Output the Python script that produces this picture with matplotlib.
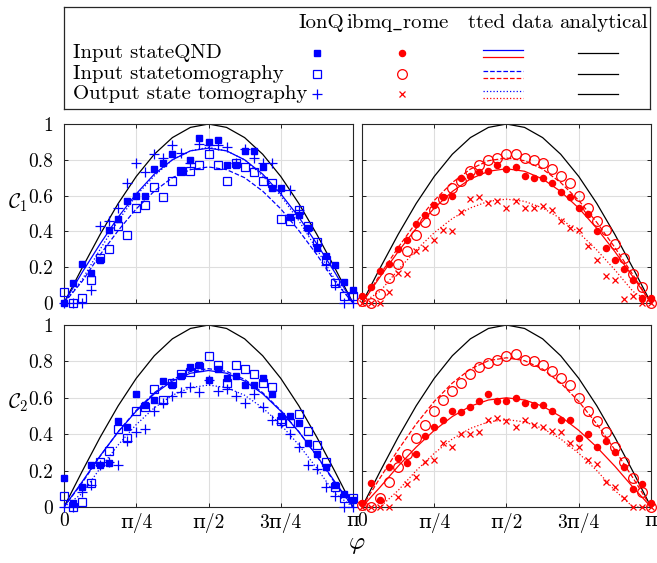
import numpy as np
import matplotlib
matplotlib.use("Agg")
import matplotlib.pyplot as plt

plt.rcParams['font.family'] = ['cmr10', 'DejaVu Serif']
plt.rcParams['mathtext.fontset'] = 'cm'
plt.rcParams['axes.formatter.use_mathtext'] = True
plt.rcParams['font.size'] = 15

# measured angles: 33 samples from 0 to pi, fits drawn on 17 samples
phi = np.linspace(0, np.pi, 33)
phi_fit = np.linspace(0, np.pi, 17)

# --- C1, IonQ ---
c1_ionq_qnd = [0, 0.11, 0.22, 0.17, 0.24, 0.41, 0.47, 0.57, 0.60, 0.60, 0.75, 0.78, 0.83,
               0.74, 0.80, 0.92, 0.90, 0.91, 0.77, 0.77, 0.85, 0.85, 0.76, 0.64, 0.64,
               0.48, 0.49, 0.42, 0.31, 0.26, 0.21, 0.12, 0.07]
c1_ionq_tomo = [0.06, 0, 0.03, 0.13, 0.25, 0.30, 0.43, 0.38, 0.53, 0.55, 0.65, 0.59, 0.68,
                0.74, 0.74, 0.77, 0.83, 0.77, 0.68, 0.78, 0.76, 0.73, 0.68, 0.67, 0.47,
                0.46, 0.52, 0.43, 0.34, 0.24, 0.11, 0.04, 0.04]
c1_ionq_out = [0, 0, 0, 0.07, 0.43, 0.46, 0.53, 0.67, 0.78, 0.73, 0.83, 0.81, 0.88,
               0.84, 0.78, 0.89, 0.88, 0.88, 0.87, 0.78, 0.86, 0.81, 0.78, 0.78, 0.63,
               0.63, 0.52, 0.41, 0.33, 0.21, 0.10, 0, 0]
c1_ionq_fit_qnd = [0, 0.17, 0.33, 0.48, 0.61, 0.72, 0.80, 0.85, 0.865,
                   0.85, 0.80, 0.72, 0.61, 0.48, 0.33, 0.17, 0]
c1_ionq_fit_tomo = [0, 0.12, 0.27, 0.405, 0.526, 0.625, 0.70, 0.745, 0.76,
                    0.745, 0.70, 0.625, 0.526, 0.405, 0.27, 0.12, 0]
c1_ionq_fit_out = [0, 0.13, 0.30, 0.46, 0.60, 0.71, 0.80, 0.85, 0.87,
                   0.85, 0.80, 0.71, 0.60, 0.46, 0.30, 0.13, 0]

# --- C1, ibmq_rome ---
c1_ibm_qnd = [0.04, 0.09, 0.18, 0.22, 0.30, 0.35, 0.44, 0.49, 0.55, 0.59, 0.60, 0.70, 0.71,
              0.73, 0.74, 0.77, 0.75, 0.76, 0.71, 0.70, 0.70, 0.67, 0.62, 0.59, 0.53,
              0.50, 0.40, 0.31, 0.24, 0.19, 0.13, 0.03, 0.03]
c1_ibm_tomo = [0.01, 0, 0.05, 0.14, 0.22, 0.29, 0.38, 0.45, 0.52, 0.58, 0.64, 0.68, 0.74,
               0.77, 0.80, 0.81, 0.83, 0.83, 0.81, 0.80, 0.78, 0.75, 0.71, 0.67, 0.60,
               0.53, 0.46, 0.41, 0.33, 0.25, 0.16, 0.09, 0]
c1_ibm_out = [0, 0, 0, 0.06, 0.17, 0.16, 0.29, 0.31, 0.35, 0.41, 0.40, 0.51, 0.58,
              0.59, 0.56, 0.57, 0.53, 0.57, 0.53, 0.53, 0.54, 0.52, 0.46, 0.42, 0.41,
              0.32, 0.24, 0.15, 0.13, 0.02, 0.04, 0, 0]
c1_ibm_fit_qnd = [0, 0.146, 0.287, 0.417, 0.53, 0.623, 0.693, 0.736, 0.75,
                  0.736, 0.693, 0.623, 0.53, 0.417, 0.287, 0.146, 0]
c1_ibm_fit_tomo = [0, 0.158, 0.31, 0.45, 0.573, 0.673, 0.748, 0.795, 0.81,
                   0.795, 0.748, 0.673, 0.573, 0.45, 0.31, 0.158, 0]
c1_ibm_fit_out = [0, 0.065, 0.185, 0.296, 0.393, 0.472, 0.531, 0.568, 0.58,
                  0.568, 0.531, 0.472, 0.393, 0.296, 0.185, 0.065, 0]

# --- C2, IonQ ---
c2_ionq_qnd = [0.16, 0.02, 0.11, 0.23, 0.23, 0.24, 0.47, 0.44, 0.62, 0.56, 0.59, 0.69, 0.67,
               0.72, 0.77, 0.78, 0.70, 0.76, 0.71, 0.72, 0.67, 0.67, 0.71, 0.62, 0.50,
               0.50, 0.46, 0.35, 0.29, 0.22, 0.12, 0.07, 0.04]
c2_ionq_tomo = [0.06, 0, 0.03, 0.13, 0.25, 0.31, 0.43, 0.38, 0.53, 0.55, 0.65, 0.59, 0.68,
                0.73, 0.74, 0.77, 0.83, 0.78, 0.68, 0.78, 0.76, 0.73, 0.68, 0.66, 0.47,
                0.46, 0.51, 0.42, 0.34, 0.25, 0.11, 0.05, 0.05]
c2_ionq_out = [0, 0, 0.08, 0.12, 0.23, 0.25, 0.23, 0.36, 0.41, 0.43, 0.53, 0.57, 0.61,
               0.63, 0.66, 0.63, 0.70, 0.64, 0.65, 0.61, 0.57, 0.62, 0.55, 0.48, 0.46,
               0.40, 0.33, 0.23, 0.21, 0.11, 0.06, 0, 0]
c2_ionq_fit_qnd = [0, 0.138, 0.281, 0.413, 0.527, 0.622, 0.692, 0.735, 0.75,
                   0.735, 0.692, 0.622, 0.527, 0.413, 0.281, 0.138, 0]
c2_ionq_fit_tomo = [0, 0.132, 0.279, 0.414, 0.531, 0.628, 0.701, 0.745, 0.76,
                    0.745, 0.701, 0.628, 0.531, 0.414, 0.279, 0.132, 0]
c2_ionq_fit_out = [0, 0.074, 0.213, 0.341, 0.453, 0.545, 0.614, 0.656, 0.67,
                   0.656, 0.614, 0.545, 0.453, 0.341, 0.213, 0.074, 0]

# --- C2, ibmq_rome ---
c2_ibm_qnd = [0.02, 0.13, 0.04, 0.22, 0.27, 0.24, 0.29, 0.39, 0.44, 0.48, 0.53, 0.52, 0.55,
              0.58, 0.62, 0.58, 0.58, 0.60, 0.57, 0.56, 0.56, 0.53, 0.48, 0.48, 0.38,
              0.40, 0.33, 0.36, 0.30, 0.22, 0.10, 0.125, 0.02]
c2_ibm_tomo = [0.01, 0, 0.05, 0.14, 0.22, 0.29, 0.38, 0.45, 0.53, 0.59, 0.64, 0.68, 0.73,
               0.77, 0.79, 0.81, 0.83, 0.84, 0.81, 0.80, 0.78, 0.75, 0.71, 0.67, 0.60,
               0.53, 0.47, 0.41, 0.33, 0.25, 0.16, 0.08, 0]
c2_ibm_out = [0, 0, 0, 0, 0.055, 0.125, 0.165, 0.25, 0.26, 0.35, 0.33, 0.40, 0.40,
              0.41, 0.48, 0.49, 0.47, 0.44, 0.48, 0.45, 0.44, 0.42, 0.41, 0.35, 0.33,
              0.26, 0.235, 0.14, 0.11, 0.05, 0, 0, 0]
c2_ibm_fit_qnd = [0, 0.109, 0.224, 0.329, 0.421, 0.497, 0.554, 0.588, 0.60,
                  0.588, 0.554, 0.497, 0.421, 0.329, 0.224, 0.109, 0]
c2_ibm_fit_tomo = [0, 0.16, 0.314, 0.456, 0.58, 0.681, 0.758, 0.804, 0.82,
                   0.804, 0.758, 0.681, 0.58, 0.456, 0.314, 0.16, 0]
c2_ibm_fit_out = [0, 0, 0.091, 0.20, 0.295, 0.374, 0.432, 0.468, 0.48,
                  0.468, 0.432, 0.374, 0.295, 0.20, 0.091, 0, 0]

# analytical curve
analytical = [0, 0.195, 0.383, 0.556, 0.707, 0.831, 0.924, 0.981, 1.0,
              0.981, 0.924, 0.831, 0.707, 0.556, 0.383, 0.195, 0]

row_labels = ['Input stateQND', 'Input statetomography', 'Output state tomography']
col_labels = ['IonQ', r'ibmq$\_$rome', 'tted data', 'analytical']
xtick_labels = ['0', 'π/4', 'π/2', '3π/4', 'π']
ytick_labels = ['0', '0.2', '0.4', '0.6', '0.8', '1']

BLUE = (0, 0, 1)
RED = (1, 0, 0)

ionq_styles = [dict(marker='s', ms=4.2, mfc=BLUE, mec=BLUE),
               dict(marker='s', ms=5.6, mfc='none', mec=BLUE, mew=0.9),
               dict(marker='+', ms=6.5, mec=BLUE, mew=0.9)]
ibm_styles = [dict(marker='o', ms=4.4, mfc=RED, mec=RED),
              dict(marker='o', ms=7, mfc='none', mec=RED, mew=0.9),
              dict(marker='x', ms=3.8, mec=RED, mew=0.9)]
fit_ls = ['-', '--', ':']

W, H = 657, 563
fig = plt.figure(figsize=(W / 100, H / 100), dpi=100)


def px_axes(x0, y0, x1, y1):
    return fig.add_axes([x0 / W, 1 - y1 / H, (x1 - x0) / W, (y1 - y0) / H])


ax_tl = px_axes(64, 124, 353, 303)
ax_tr = px_axes(362, 124, 651, 303)
ax_bl = px_axes(64, 325, 353, 507)
ax_br = px_axes(362, 325, 651, 507)

panels = [
    (ax_tl, [c1_ionq_qnd, c1_ionq_tomo, c1_ionq_out],
     [c1_ionq_fit_qnd, c1_ionq_fit_tomo, c1_ionq_fit_out], ionq_styles, BLUE),
    (ax_tr, [c1_ibm_qnd, c1_ibm_tomo, c1_ibm_out],
     [c1_ibm_fit_qnd, c1_ibm_fit_tomo, c1_ibm_fit_out], ibm_styles, RED),
    (ax_bl, [c2_ionq_qnd, c2_ionq_tomo, c2_ionq_out],
     [c2_ionq_fit_qnd, c2_ionq_fit_tomo, c2_ionq_fit_out], ionq_styles, BLUE),
    (ax_br, [c2_ibm_qnd, c2_ibm_tomo, c2_ibm_out],
     [c2_ibm_fit_qnd, c2_ibm_fit_tomo, c2_ibm_fit_out], ibm_styles, RED),
]

for ax, pts, fits, styles, col in panels:
    ax.plot(phi_fit, analytical, color='k', lw=0.9)
    for y, st in zip(pts, styles):
        ax.plot(phi, y, ls='none', clip_on=False, zorder=4, **st)
    for y, ls in zip(fits, fit_ls):
        ax.plot(phi_fit, y, color=col, ls=ls, lw=0.9)
    ax.set_xlim(0, np.pi)
    ax.set_ylim(0, 1)
    ax.set_xticks(np.linspace(0, np.pi, 5))
    ax.set_yticks(np.linspace(0, 1, 6))
    ax.grid(True, color='#dedede', lw=0.8)
    ax.set_axisbelow(True)
    ax.tick_params(direction='in', top=True, right=True, length=3, width=0.6)
    ax.tick_params(axis='y', labelsize=14, pad=8)
    ax.tick_params(axis='x', labelsize=14, pad=4)
    for s in ax.spines.values():
        s.set_linewidth(0.8)
        s.set_color('#262626')

for ax in (ax_tl, ax_bl):
    ax.set_yticklabels(ytick_labels)
for ax in (ax_tr, ax_br):
    ax.set_yticklabels([])
for ax in (ax_tl, ax_tr):
    ax.set_xticklabels([])
for ax in (ax_bl, ax_br):
    ax.set_xticklabels(xtick_labels)

ax_tl.set_ylabel(r'$\mathcal{C}_1$', rotation=0, fontsize=15)
ax_bl.set_ylabel(r'$\mathcal{C}_2$', rotation=0, fontsize=15)
ax_tl.yaxis.set_label_coords(-0.16, 0.50)
ax_bl.yaxis.set_label_coords(-0.16, 0.51)

fig.text(357 / W, 1 - 545 / H, r'$\varphi$', fontsize=18, ha='center', va='center')

# legend box drawn as a small table
leg = px_axes(64, 7, 650, 109)
leg.set_xlim(64, 650)
leg.set_ylim(109, 7)
leg.set_xticks([])
leg.set_yticks([])
for s in leg.spines.values():
    s.set_linewidth(0.9)
    s.set_color('#262626')

head_x = [321, 398, 510, 603]
for x, t in zip(head_x, col_labels):
    leg.text(x, 23, t, ha='center', va='center', fontsize=15)
row_y = [53, 74, 94]
for i, (y, t) in enumerate(zip(row_y, row_labels)):
    leg.text(73, y, t, ha='left', va='center', fontsize=15)
    leg.plot([317], [y], ls='none', **ionq_styles[i])
    leg.plot([402], [y], ls='none', **ibm_styles[i])
    leg.plot([483, 523], [y - 3, y - 3], color=BLUE, ls=fit_ls[i], lw=0.9)
    leg.plot([483, 523], [y + 4, y + 4], color=RED, ls=fit_ls[i], lw=0.9)
    leg.plot([578, 618], [y, y], color='k', lw=0.9)

fig.savefig('out.png', dpi=100)
